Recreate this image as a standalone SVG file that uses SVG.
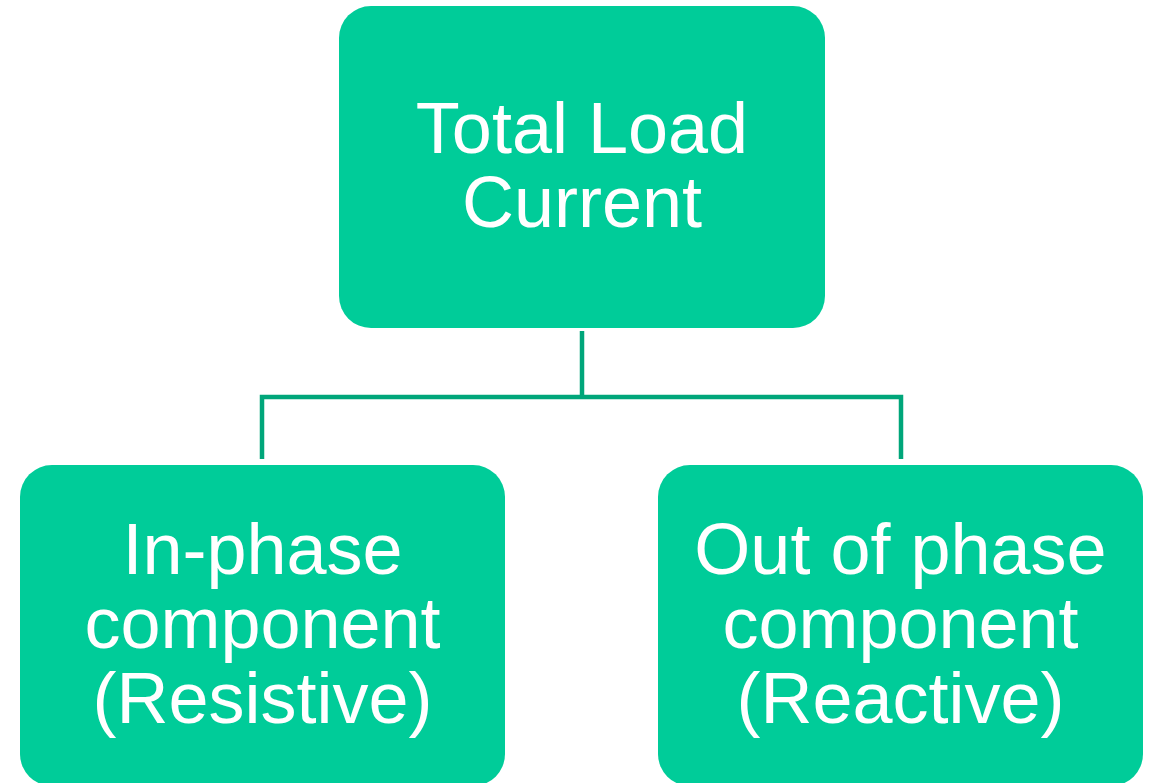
<svg xmlns="http://www.w3.org/2000/svg" width="1152" height="783" viewBox="0 0 1152 783">
<style>
.box{fill:#00CC99;}
.lbl{fill:#FFFFFF;font-family:"Liberation Sans",Arial,sans-serif;font-size:72px;text-anchor:middle;}
.conn{fill:none;stroke:#00A67A;stroke-width:4.5;stroke-linejoin:miter;}
</style>
<rect width="1152" height="783" fill="#FFFFFF"/>
<g id="connectors">
<path class="conn" d="M582 331 V397"/>
<path class="conn" d="M262 459 V397 H901 V459"/>
</g>
<g id="node-total">
<rect class="box" x="339" y="6" width="486" height="322" rx="32" ry="32"/>
<text class="lbl" x="582" y="152.5">Total Load</text>
<text class="lbl" x="582" y="226.5">Current</text>
</g>
<g id="node-inphase">
<rect class="box" x="20" y="465" width="485" height="321" rx="32" ry="32"/>
<text class="lbl" x="262.5" y="574">In-phase</text>
<text class="lbl" x="262.5" y="648.3">component</text>
<text class="lbl" x="262.5" y="722.6">(Resistive)</text>
</g>
<g id="node-outphase">
<rect class="box" x="658" y="465" width="485" height="321" rx="32" ry="32"/>
<text class="lbl" x="900.5" y="574">Out of phase</text>
<text class="lbl" x="900.5" y="648.3">component</text>
<text class="lbl" x="900.5" y="722.6">(Reactive)</text>
</g>
</svg>
